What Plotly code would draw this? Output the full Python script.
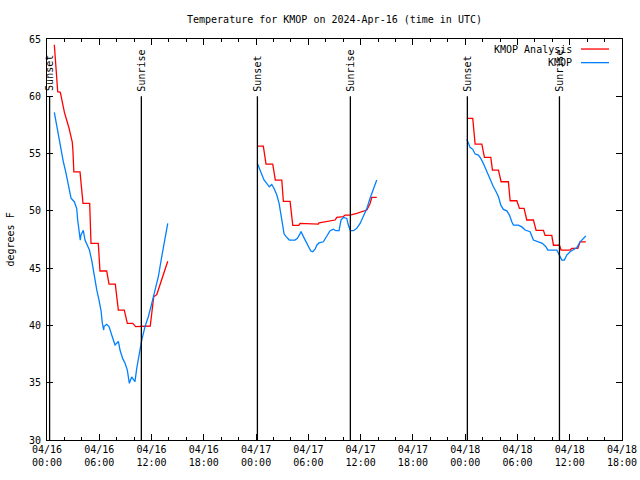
import pandas as pd
import plotly.graph_objects as go

# ---------------- data (hours since 2024-04-16 00:00 UTC, degrees F) ----------------
ana_hours_1 = [0.84, 1.03, 1.15, 1.23, 1.53, 2.0, 2.5, 2.9, 2.98, 3.08, 3.79, 4.13, 4.9, 5.05, 5.89,
               6.08, 6.85, 7.12, 7.84, 8.19, 8.87, 9.22, 9.84, 10.18, 11.85, 12.05, 12.25, 12.6, 13.86]
ana_temp_1 = [64.5, 62.4, 61.0, 60.4, 60.35, 58.6, 57.3, 56.0, 55.2, 53.4, 53.4, 50.65, 50.65, 47.16, 47.16,
              44.75, 44.75, 43.6, 43.6, 41.34, 41.34, 40.18, 40.18, 39.9, 39.95, 41.4, 42.5, 42.7, 45.6]

ana_hours_2 = [24.14, 24.83, 25.14, 25.91, 26.21, 26.95, 27.13, 27.9, 28.21, 28.9, 29.05, 30.0, 30.11, 31.15,
               31.23, 32.11, 33.07, 33.26, 34.02, 34.21, 34.79, 35.56, 36.13, 36.71, 37.08, 37.28, 37.85]
ana_temp_2 = [55.65, 55.65, 54.08, 54.08, 52.69, 52.69, 50.83, 50.83, 48.73, 48.73, 48.9, 48.9, 48.85, 48.85,
              48.96, 49.05, 49.2, 49.43, 49.5, 49.63, 49.63, 49.78, 49.9, 50.07, 50.65, 51.17, 51.17]

ana_hours_3 = [48.19, 48.87, 49.14, 49.91, 50.21, 50.94, 51.13, 51.82, 52.12, 52.96, 53.16, 53.93, 54.23, 54.76,
               55.07, 55.83, 56.14, 56.98, 57.17, 57.94, 58.13, 58.82, 59.01, 60.05, 60.24, 60.93, 61.19, 61.85]
ana_temp_3 = [58.07, 58.07, 55.83, 55.83, 54.67, 54.67, 53.56, 53.56, 52.54, 52.54, 50.88, 50.88, 50.21, 50.21,
              49.2, 49.2, 48.3, 48.3, 47.86, 47.86, 47.0, 47.0, 46.58, 46.58, 46.73, 46.73, 47.3, 47.3]

obs_hours_1 = [0.84, 1.03, 1.30, 1.57, 1.87, 2.15, 2.38, 2.53, 2.76, 3.13, 3.41, 3.52, 3.71, 3.82, 3.90,
               4.17, 4.36, 4.63, 4.86, 5.13, 5.43, 5.71, 5.97, 6.20, 6.35, 6.51, 6.54, 6.85, 7.12, 7.43,
               7.54, 7.81, 8.19, 8.38, 8.69, 8.96, 9.22, 9.45, 9.72, 9.99, 10.10, 10.30, 10.60, 10.87,
               11.25, 11.63, 12.02, 12.40, 12.78, 13.17, 13.55, 13.86]
obs_temp_1 = [58.6, 57.8, 56.6, 55.45, 54.3, 53.4, 52.5, 51.8, 51.1, 50.8, 50.2, 49.2, 48.0, 47.45, 47.9,
              48.3, 47.45, 47.0, 46.6, 45.7, 44.25, 43.1, 42.2, 41.3, 40.2, 39.6, 39.9, 40.1, 39.9, 39.0,
              38.9, 38.3, 38.6, 37.85, 37.1, 36.7, 36.1, 34.95, 35.5, 35.2, 35.1, 36.25, 37.7, 38.7,
              39.9, 40.76, 41.9, 43.1, 44.25, 46.0, 47.74, 48.9]

obs_hours_2 = [24.14, 24.37, 24.65, 24.91, 25.22, 25.52, 25.80, 26.06, 26.37, 26.64, 26.83, 27.06, 27.21,
               27.44, 27.82, 28.47, 28.74, 28.97, 29.16, 29.43, 29.74, 30.0, 30.28, 30.51, 30.77, 30.96,
               31.23, 31.72, 32.11, 32.49, 32.87, 33.15, 33.52, 33.75, 34.02, 34.41, 34.59, 34.82, 35.17,
               35.56, 35.94, 36.31, 36.71, 37.08, 37.46, 37.85]
obs_temp_2 = [54.15, 53.7, 53.1, 52.7, 52.4, 52.1, 52.3, 51.95, 51.4, 50.65, 49.78, 48.6, 48.0,
              47.75, 47.45, 47.45, 47.6, 47.9, 48.2, 47.75, 47.3, 46.9, 46.5, 46.43, 46.65, 47.0,
              47.2, 47.3, 47.75, 48.27, 48.4, 48.27, 48.27, 49.2, 49.43, 49.34, 48.76, 48.27, 48.27,
              48.47, 48.9, 49.5, 50.2, 51.1, 51.96, 52.69]

obs_hours_3 = [48.19, 48.37, 48.56, 48.87, 49.14, 49.52, 49.79, 50.09, 50.40, 50.67, 50.94, 51.24, 51.55,
               51.82, 52.09, 52.39, 52.78, 53.08, 53.35, 53.54, 54.11, 54.50, 54.88, 55.45, 55.83, 56.40,
               56.86, 57.26, 57.49, 58.52, 58.71, 58.90, 59.09, 59.39, 59.66, 60.05, 60.43, 60.82, 61.19,
               61.58, 61.85]
obs_temp_3 = [56.24, 55.9, 55.54, 55.37, 54.96, 54.87, 54.58, 54.14, 53.56, 53.12, 52.54, 52.1, 51.67,
              51.23, 50.5, 50.13, 50.0, 49.63, 49.05, 48.76, 48.76, 48.6, 48.33, 48.18, 47.45, 47.3,
              47.16, 46.87, 46.58, 46.58, 46.3, 46.0, 45.7, 45.7, 46.14, 46.43, 46.64, 46.8, 47.3,
              47.6, 47.8]

sunset_hours = [0.3, 24.15, 48.25]
sunrise_hours = [10.83, 34.82, 58.82]

tick_hours = [0, 6, 12, 18, 24, 30, 36, 42, 48, 54, 60, 66]
tick_labels = ["04/16<br>00:00", "04/16<br>06:00", "04/16<br>12:00", "04/16<br>18:00",
               "04/17<br>00:00", "04/17<br>06:00", "04/17<br>12:00", "04/17<br>18:00",
               "04/18<br>00:00", "04/18<br>06:00", "04/18<br>12:00", "04/18<br>18:00"]

series_names = ["KMOP Analysis", "KMOP"]
series_colors = ["#ff0000", "#0080ff"]

# ---------------- figure ----------------
base = pd.Timestamp("2024-04-16 00:00")


def to_time(hours):
    return [base + pd.Timedelta(hours=h) for h in hours]


FONT = "DejaVu Sans Mono"
FS = 10
fig = go.Figure()

for hrs, tmp in [(ana_hours_1, ana_temp_1), (ana_hours_2, ana_temp_2), (ana_hours_3, ana_temp_3)]:
    fig.add_trace(go.Scatter(x=to_time(hrs), y=tmp, mode="lines", name=series_names[0],
                             line=dict(color=series_colors[0], width=1.3), showlegend=False))
for hrs, tmp in [(obs_hours_1, obs_temp_1), (obs_hours_2, obs_temp_2), (obs_hours_3, obs_temp_3)]:
    fig.add_trace(go.Scatter(x=to_time(hrs), y=tmp, mode="lines", name=series_names[1],
                             line=dict(color=series_colors[1], width=1.3), showlegend=False))

for label, hrs in [("Sunset", sunset_hours), ("Sunrise", sunrise_hours)]:
    for t in to_time(hrs):
        fig.add_shape(type="line", x0=t, x1=t, y0=60, y1=30, xref="x", yref="y",
                      line=dict(color="black", width=1.3))
        fig.add_annotation(x=t, y=60, xref="x", yref="y", text=label, textangle=-90,
                           showarrow=False, xanchor="center", yanchor="bottom", yshift=3,
                           font=dict(family=FONT, size=FS, color="black"))

# legend drawn like gnuplot (text right-aligned, sample to the right)
for i, (name, col) in enumerate(zip(series_names, series_colors)):
    yy = 0.975 - i * 0.034
    fig.add_annotation(x=0.9165, y=yy, xref="paper", yref="paper", text=name, showarrow=False,
                       xanchor="right", yanchor="middle", font=dict(family=FONT, size=FS, color="black"))
    fig.add_shape(type="line", x0=0.9287, x1=0.9774, y0=yy, y1=yy, xref="paper", yref="paper",
                  line=dict(color=col, width=1.3))

# y-axis title like gnuplot
fig.add_annotation(x=0, y=0.5, xref="paper", yref="paper", text="degrees F", textangle=-90,
                   showarrow=False, xanchor="center", yanchor="middle", xshift=-37,
                   font=dict(family=FONT, size=FS, color="black"))

fig.update_layout(
    width=640, height=480,
    margin=dict(l=47, r=18, t=39, b=40, autoexpand=False),
    paper_bgcolor="white", plot_bgcolor="white",
    font=dict(family=FONT, size=FS, color="black"),
    title=dict(text="Temperature for KMOP on 2024-Apr-16 (time in UTC)", x=0.5, xref="paper",
               y=0.96, yanchor="middle", font=dict(family=FONT, size=FS, color="black")),
    showlegend=False,
)

fig.update_xaxes(
    type="date", range=[base, base + pd.Timedelta(hours=66)], automargin=False,
    tickmode="array", tickvals=to_time(tick_hours), ticktext=tick_labels,
    ticks="inside", ticklen=6, tickcolor="black", tickwidth=1,
    showline=True, linecolor="black", linewidth=1, mirror="allticks",
    showgrid=False, zeroline=False,
    minor=dict(dtick=2 * 3600 * 1000, tick0=base, ticks="inside", ticklen=3, tickcolor="black",
               showgrid=False),
    tickfont=dict(family=FONT, size=FS),
)
fig.update_yaxes(
    range=[30, 65], tickmode="linear", tick0=30, dtick=5, automargin=False,
    ticks="inside", ticklen=6, tickcolor="black", tickwidth=1,
    showline=True, linecolor="black", linewidth=1, mirror="allticks",
    showgrid=False, zeroline=False, ticklabelstandoff=3,
    tickfont=dict(family=FONT, size=FS),
)

fig.write_html("out.html", config={"displayModeBar": False, "staticPlot": True},
               post_script="document.body.style.margin='0';")
